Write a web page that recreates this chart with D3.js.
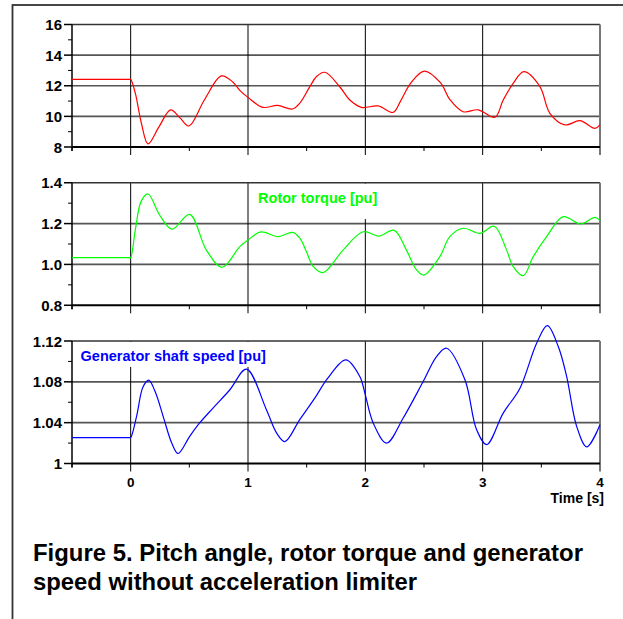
<!DOCTYPE html>
<html>
<head>
<meta charset="utf-8">
<script src="https://cdn.jsdelivr.net/npm/d3@7"></script>
<style>
  body { margin: 0; background: #fff; }
  text { font-family: Arial, "Liberation Sans", sans-serif; font-weight: bold; }
</style>
</head>
<body>
<svg id="chart" width="623" height="619"></svg>
<script>
// time axis
const timeDomain = [-0.5, 4];
const timeTicks = [0, 1, 2, 3, 4];
const timeGrid = [0, 1, 2, 3];
const timeMinorTicks = [-0.5, 0.5, 1.5, 2.5, 3.5];

// pitch angle (red)
const pitchT = [-0.5, -0.01, 0, 0.04, 0.09, 0.148, 0.24, 0.341, 0.42, 0.497, 0.63, 0.773, 0.87, 0.93, 1.0, 1.128, 1.251, 1.379,
  1.44, 1.527, 1.584, 1.655, 1.78, 1.87, 1.967, 2.109, 2.237, 2.30, 2.39, 2.502, 2.64, 2.72, 2.834, 2.962, 3.104,
  3.175, 3.26, 3.352, 3.488, 3.573, 3.701, 3.829, 3.957, 4.0];
const pitchV = [12.42, 12.42, 12.42, 11.5, 9.6, 8.2, 9.3, 10.42, 9.9, 9.37, 11.1, 12.64, 12.25, 11.7, 11.24, 10.59, 10.72, 10.48,
  10.85, 11.94, 12.6, 12.88, 11.95, 11.05, 10.59, 10.68, 10.26, 11.0, 12.2, 12.96, 12.2, 11.1, 10.3, 10.43, 9.94,
  11.07, 12.16, 12.92, 11.94, 10.2, 9.44, 9.72, 9.22, 9.44];

// rotor torque (green)
const torqueT = [-0.5, -0.01, 0, 0.04, 0.09, 0.148, 0.247, 0.352, 0.503, 0.645, 0.779, 0.93, 1.0, 1.109, 1.257, 1.379,
  1.44, 1.5, 1.555, 1.64, 1.81, 1.981, 2.115, 2.246, 2.35, 2.437, 2.499, 2.635, 2.72, 2.834, 2.977, 3.099,
  3.204, 3.26, 3.346, 3.431, 3.545, 3.687, 3.835, 3.957, 4.0];
const torqueV = [1.033, 1.033, 1.033, 1.17, 1.31, 1.345, 1.242, 1.173, 1.245, 1.07, 0.986, 1.087, 1.12, 1.159, 1.136, 1.157,
  1.13, 1.06, 0.99, 0.96, 1.07, 1.16, 1.139, 1.167, 1.07, 0.973, 0.948, 1.038, 1.136, 1.177, 1.152, 1.187,
  1.07, 0.989, 0.945, 1.038, 1.136, 1.234, 1.198, 1.23, 1.214];

// generator shaft speed (blue)
const speedT = [-0.5, -0.01, 0, 0.05, 0.105, 0.154, 0.21, 0.28, 0.35, 0.404, 0.503, 0.588, 0.702, 0.844, 0.987, 1.157, 1.243,
  1.313, 1.441, 1.569, 1.68, 1.834, 1.953, 1.996, 2.067, 2.181, 2.323, 2.493, 2.607, 2.692, 2.849, 2.948, 3.034,
  3.175, 3.318, 3.46, 3.551, 3.645, 3.716, 3.801, 3.887, 4.0];
const speedV = [1.0254, 1.0254, 1.0254, 1.046, 1.075, 1.0817, 1.07, 1.045, 1.02, 1.0098, 1.0266, 1.0397, 1.0543, 1.072, 1.0924,
  1.0527, 1.03, 1.0215, 1.043, 1.064, 1.0836, 1.1015, 1.0852, 1.069, 1.0397, 1.02, 1.0446, 1.0803, 1.1047, 1.1129,
  1.082, 1.0332, 1.0185, 1.0494, 1.0738, 1.1178, 1.135, 1.1144, 1.0852, 1.0364, 1.0163, 1.038];

// y axes
const pitchTicks = [8, 10, 12, 14, 16];
const pitchMinor = [9, 11, 13, 15];
const torqueTicks = [0.8, 1.0, 1.2, 1.4];
const torqueMinor = [0.9, 1.1, 1.3];
const speedTicks = [1, 1.04, 1.08, 1.12];
const speedMinor = [1.02, 1.06, 1.10];

const panels = [
  { t: pitchT, v: pitchV, color: "#ff0000", domain: [8, 16], ticks: pitchTicks, minor: pitchMinor,
    fmt: d => d3.format("d")(d), label: "", box: [1.6, 2.4, 8.15, 9.9] },
  { t: torqueT, v: torqueV, color: "#00ff00", domain: [0.8, 1.4], ticks: torqueTicks, minor: torqueMinor,
    fmt: d => d.toFixed(1), label: "Rotor torque [pu]", box: [1.035, 2.12, 1.396, 1.222] },
  { t: speedT, v: speedV, color: "#0000ff", domain: [1, 1.12], ticks: speedTicks, minor: speedMinor,
    fmt: d => d === 1 ? "1" : d.toFixed(2), label: "Generator shaft speed [pu]", box: [-0.478, 1.228, 1.1192, 1.0946] }
];

const svg = d3.select("#chart");
const left = 72, right = 600, panelH = 122.5, panelStep = 158.25, firstTop = 24.5;

svg.append("rect").attr("width", 623).attr("height", 619).attr("fill", "#fff");
// outer frame of the figure
svg.append("rect").attr("x", 12.5).attr("y", 5).attr("width", 700).attr("height", 700)
  .attr("fill", "none").attr("stroke", "#333").attr("stroke-width", 1.8);

const x = d3.scaleLinear().domain(timeDomain).range([left, right]);

panels.forEach((p, i) => {
  const top = firstTop + i * panelStep, bottom = top + panelH;
  const y = d3.scaleLinear().domain(p.domain).range([bottom, top]);
  const g = svg.append("g");

  // horizontal gridlines
  g.selectAll(".hgrid").data(p.ticks.slice(1, -1)).join("line")
    .attr("x1", left).attr("x2", right).attr("y1", y).attr("y2", y)
    .attr("stroke", "#555").attr("stroke-width", 1.6);

  // vertical gridlines, continue down as major ticks
  g.selectAll(".vgrid").data(timeGrid).join("line")
    .attr("x1", x).attr("x2", x).attr("y1", top).attr("y2", bottom + 8)
    .attr("stroke", "#000").attr("stroke-width", 1);

  g.selectAll(".xminor").data(timeMinorTicks).join("line")
    .attr("x1", x).attr("x2", x).attr("y1", bottom).attr("y2", bottom + 4)
    .attr("stroke", "#000").attr("stroke-width", 1);

  // box behind the series label
  g.append("rect")
    .attr("x", x(p.box[0])).attr("y", y(p.box[2]))
    .attr("width", x(p.box[1]) - x(p.box[0])).attr("height", y(p.box[3]) - y(p.box[2]))
    .attr("fill", "#fff");
  if (p.label) {
    g.append("text")
      .attr("x", x(p.box[0]) + 6).attr("y", y(p.box[2]) + 19.5)
      .attr("font-size", 14.5).attr("fill", p.color)
      .text(p.label);
  }

  // frame
  g.append("line").attr("x1", left).attr("x2", right).attr("y1", top).attr("y2", top)
    .attr("stroke", "#333").attr("stroke-width", 1.5);
  g.append("line").attr("x1", right).attr("x2", right).attr("y1", top).attr("y2", bottom + 8)
    .attr("stroke", "#777").attr("stroke-width", 2);
  g.append("line").attr("x1", left).attr("x2", left).attr("y1", top).attr("y2", bottom + 4)
    .attr("stroke", "#000").attr("stroke-width", 1.5);
  g.append("line").attr("x1", left).attr("x2", right).attr("y1", bottom).attr("y2", bottom)
    .attr("stroke", "#000").attr("stroke-width", 2);

  // y ticks and labels
  g.selectAll(".ymajor").data(p.ticks).join("line")
    .attr("x1", left - 8).attr("x2", left).attr("y1", y).attr("y2", y)
    .attr("stroke", "#000").attr("stroke-width", 1.5);
  g.selectAll(".yminor").data(p.minor).join("line")
    .attr("x1", left - 4).attr("x2", left).attr("y1", y).attr("y2", y)
    .attr("stroke", "#000").attr("stroke-width", 1);
  g.selectAll(".ylab").data(p.ticks).join("text")
    .attr("x", left - 10).attr("y", d => y(d) + 5.5)
    .attr("text-anchor", "end").attr("font-size", 15)
    .text(p.fmt);

  // the series
  const line = d3.line().x(d => x(d[0])).y(d => y(d[1])).curve(d3.curveCatmullRom.alpha(0.5));
  g.append("path")
    .datum(d3.zip(p.t, p.v))
    .attr("d", line)
    .attr("fill", "none").attr("stroke", p.color).attr("stroke-width", 1.2);

  if (i === panels.length - 1) {
    g.selectAll(".xlab").data(timeTicks).join("text")
      .attr("x", x).attr("y", bottom + 23.5)
      .attr("text-anchor", "middle").attr("font-size", 13.5)
      .text(d => d);
    g.append("text").attr("x", 604).attr("y", bottom + 39.5)
      .attr("text-anchor", "end").attr("font-size", 14)
      .text("Time [s]");
  }
});

// caption
const caption = ["Figure 5. Pitch angle, rotor torque and generator", "speed without acceleration limiter"];
const captionWidth = [550, 384];
svg.selectAll(".caption").data(caption).join("text")
  .attr("x", 33).attr("y", (d, i) => 561 + i * 28.5)
  .attr("font-size", 23)
  .attr("textLength", (d, i) => captionWidth[i]).attr("lengthAdjust", "spacingAndGlyphs")
  .text(d => d);
</script>
</body>
</html>
